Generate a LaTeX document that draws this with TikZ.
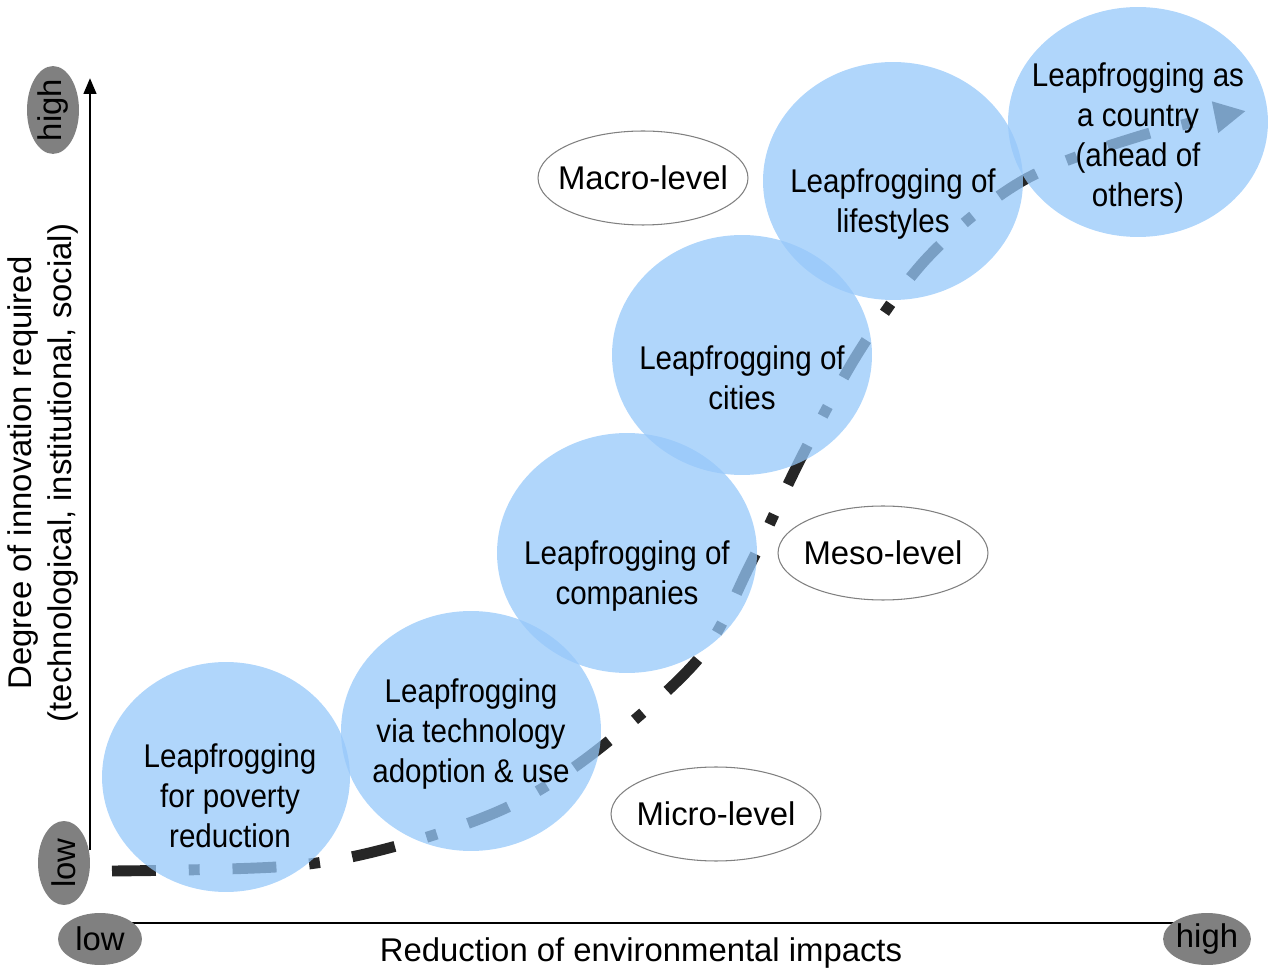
\documentclass[tikz,border=0pt]{standalone}
\usepackage{fontspec}
\setmainfont{Liberation Sans}
\newfontfamily\narrowsans{Liberation Sans}[FakeStretch=0.9]
\usetikzlibrary{shapes.geometric,arrows.meta}
\definecolor{leapblue}{RGB}{150,200,250}
\definecolor{taggray}{RGB}{128,128,128}
\newcommand{\bigtext}{\fontsize{18.7}{22.7}\selectfont}
\tikzset{
  leapcircle/.style = {ellipse, fill = leapblue, fill opacity = .75, inner sep = 0pt,
                       minimum width = 5.2cm, minimum height = 4.8cm},
  leaptext/.style   = {align = center, font = \narrowsans\bigtext},
  levelbox/.style   = {ellipse, draw = taggray, line width = .6pt, fill = white,
                       inner xsep = -.25cm, inner ysep = 0pt,
                       minimum width = 4.2cm, minimum height = 1.88cm, font = \bigtext},
  tagblob/.style    = {ellipse, fill = taggray, inner sep = 0pt,
                       minimum width = 1.68cm, minimum height = 1.04cm, font = \bigtext},
  axisline/.style   = {line width = 1.7pt},
  leappath/.style   = {line width = 6.2pt, draw = black!85,
                       dash pattern = on 25pt off 18.7pt on 6.2pt off 18.7pt}
}
\begin{document}
\begin{tikzpicture}[x = .02cm, y = -.02cm]
  \useasboundingbox (0, 0) rectangle (1268, 972);
  % axes
  \coordinate (yfoot) at (90, 850);
  \coordinate (ytop) at (90, 78);
  \coordinate (xfoot) at (130, 923);
  \coordinate (xhead) at (1175, 923);
  \draw[axisline, -{Triangle[length = 9pt, width = 7pt]}] (yfoot) -- (ytop);
  \draw[axisline] (xfoot) -- (xhead);
  % leapfrogging path
  \draw[leappath, -{Triangle[length = 18pt, width = 17pt]}]
    plot[smooth, tension = .55] coordinates {(112, 871) (290, 866) (400, 845)
      (510, 806) (600, 748) (700, 657) (750, 565) (800, 460) (860, 350)
      (930, 255) (1024, 180) (1140, 136) (1246, 111)};
  % circles
  \node[leapcircle, minimum width = 4.96cm, minimum height = 4.6cm] (poverty) at (226, 777) {};
  \node[leapcircle] (technology) at (471, 731) {};
  \node[leapcircle] (companies) at (627, 553) {};
  \node[leapcircle] (cities) at (742, 355) {};
  \node[leapcircle, minimum height = 4.76cm] (lifestyles) at (893, 181) {};
  \node[leapcircle, minimum height = 4.6cm] (country) at (1138, 122) {};
  \node[leaptext] (povertytext) at (230, 796) {Leapfrogging\\for poverty\\reduction};
  \node[leaptext] (technologytext) at (471, 734) {Leapfrogging\\via technology\\adoption \& use};
  \node[leaptext] (companiestext) at (627, 576) {Leapfrogging of\\companies};
  \node[leaptext] (citiestext) at (742, 378) {Leapfrogging of\\cities};
  \node[leaptext] (lifestylestext) at (893, 204) {Leapfrogging of\\lifestyles};
  \node[leaptext] (countrytext) at (1138, 138) {Leapfrogging as\\a country\\(ahead of\\others)};
  % levels
  \node[levelbox] (macro) at (643, 178) {Macro-level};
  \node[levelbox] (meso) at (883, 553) {Meso-level};
  \node[levelbox] (micro) at (716, 814) {Micro-level};
  % axis tags
  \node[tagblob, rotate = 90, minimum width = 1.72cm] (highy) at (53, 110) {high};
  \node[tagblob, rotate = 90] (lowy) at (64, 863) {low};
  \node[tagblob] (lowx) at (100, 939) {low};
  \node[tagblob] (highx) at (1207, 939) {high};
  \node[rotate = 90, align = center, font = \bigtext] (ylabel) at (43, 473)
    {Degree of innovation required\\(technological, institutional, social)};
  \node[font = \bigtext] (xlabel) at (641, 953) {Reduction of environmental impacts};
\end{tikzpicture}
\end{document}
